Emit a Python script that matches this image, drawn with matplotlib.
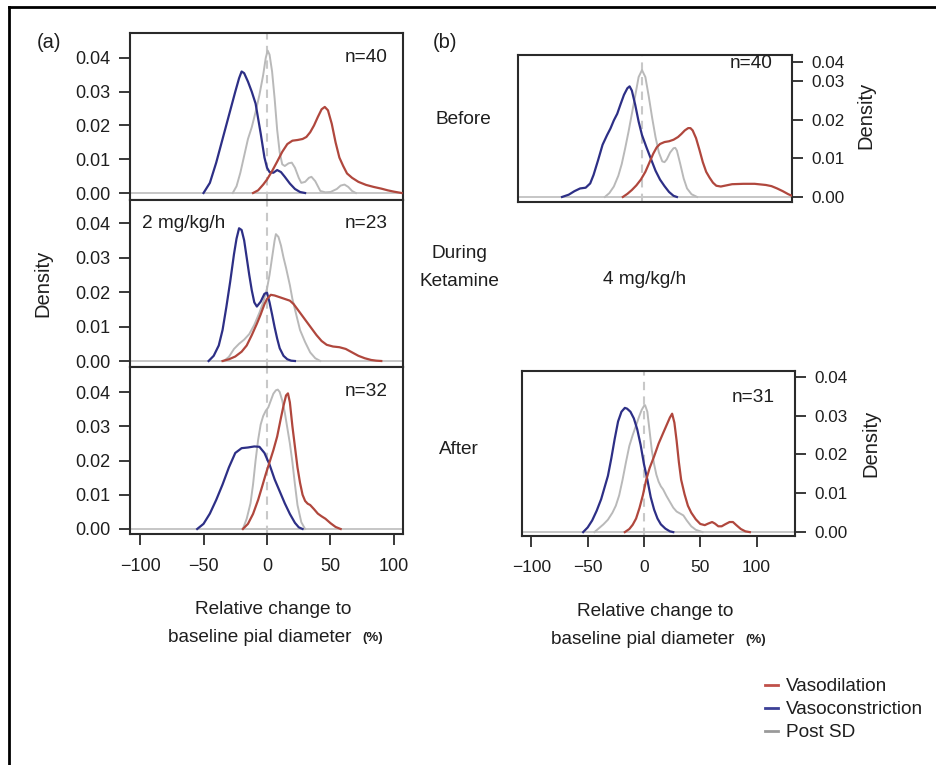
import matplotlib
matplotlib.use('Agg')
import matplotlib.pyplot as plt
from matplotlib.lines import Line2D

plt.rcParams['font.family'] = ['Liberation Sans', 'DejaVu Sans']

# ---------------- data ----------------
x_ticks = [-100, -50, 0, 50, 100]
y_ticks = [0.00, 0.01, 0.02, 0.03, 0.04]
y_tick_labels = ['0.00', '0.01', '0.02', '0.03', '0.04']
b_top_y_ticks = [0.00, 0.01, 0.02, 0.03, 0.0349]   # as drawn in the original
n_a = [40, 23, 32]
n_b = [40, 31]
legend_labels = ['Vasodilation', 'Vasoconstriction', 'Post SD']

# (a) before
a_before_con_x = [-50, -45, -40, -35, -30, -25, -22, -20, -18, -15, -12, -9, -5, -2, 0, 2, 5, 8, 11, 14, 18, 22, 26, 30]
a_before_con_y = [0, 0.003, 0.009, 0.016, 0.023, 0.030, 0.034, 0.036, 0.0355, 0.033, 0.030, 0.0265, 0.0177, 0.0105, 0.0075, 0.0062, 0.006, 0.0068, 0.0062, 0.0048, 0.0028, 0.0012, 0.0003, 0]
a_before_sd_x = [-27, -24, -21, -18, -15, -12, -9, -6, -3, -1, 0.5, 2, 4, 6, 8, 10, 12, 14, 17, 19.5, 22, 25, 27, 30, 33, 35, 38, 42, 46, 50, 55, 58, 61, 64, 67, 70]
a_before_sd_y = [0, 0.002, 0.006, 0.011, 0.016, 0.0195, 0.024, 0.029, 0.035, 0.040, 0.0422, 0.041, 0.036, 0.028, 0.0187, 0.012, 0.0085, 0.008, 0.0088, 0.009, 0.0075, 0.0045, 0.003, 0.0033, 0.0045, 0.0048, 0.0035, 0.0006, 0.0002, 0.0003, 0.0012, 0.0022, 0.0025, 0.0018, 0.0006, 0]
a_before_dil_x = [-11, -7, -3, 0, 4, 8, 12, 16, 20, 24, 28, 31, 34, 37, 40, 43, 45.5, 48, 51, 54, 57, 60, 63, 67, 72, 78, 84, 90, 95, 100, 106]
a_before_dil_y = [0, 0.0008, 0.0025, 0.004, 0.0065, 0.0093, 0.0122, 0.0145, 0.0155, 0.0157, 0.016, 0.0166, 0.018, 0.020, 0.0225, 0.0248, 0.0255, 0.0245, 0.0205, 0.015, 0.0105, 0.008, 0.0058, 0.0045, 0.0033, 0.0024, 0.0018, 0.0013, 0.0008, 0.0004, 0]

# (a) during 2 mg/kg/h
a_during_con_x = [-46, -42, -38, -35, -32, -29, -26, -24, -22, -20, -18, -16, -14, -12, -10, -8, -5, -2, 0, 2, 4, 6, 8, 10, 13, 16, 19, 22]
a_during_con_y = [0, 0.0015, 0.0045, 0.009, 0.0157, 0.023, 0.031, 0.0355, 0.0385, 0.038, 0.035, 0.030, 0.025, 0.0205, 0.017, 0.0158, 0.0172, 0.0195, 0.0198, 0.017, 0.0135, 0.0098, 0.0065, 0.0037, 0.0015, 0.0005, 0.0001, 0]
a_during_sd_x = [-34, -30, -26, -22, -18, -14, -10, -6, -3, 0, 2, 4, 6, 7, 9, 11, 13, 15, 18, 20, 23, 26, 30, 34, 38, 42]
a_during_sd_y = [0, 0.0012, 0.0035, 0.005, 0.0062, 0.0078, 0.0105, 0.014, 0.017, 0.021, 0.025, 0.030, 0.035, 0.0368, 0.036, 0.0335, 0.030, 0.027, 0.022, 0.018, 0.0135, 0.009, 0.0055, 0.0025, 0.0008, 0]
a_during_dil_x = [-35, -30, -25, -20, -16, -12, -8, -5, -2, 0, 3, 6, 10, 14, 18, 21, 24, 27, 31, 35, 39, 43, 47, 52, 57, 62, 67, 72, 77, 82, 86, 90]
a_during_dil_y = [0, 0.0005, 0.0013, 0.0027, 0.0045, 0.0075, 0.0108, 0.0135, 0.0165, 0.018, 0.0192, 0.019, 0.0185, 0.018, 0.0175, 0.0165, 0.015, 0.0135, 0.0115, 0.0095, 0.0075, 0.0058, 0.0047, 0.0042, 0.004, 0.0035, 0.0025, 0.0015, 0.0008, 0.0003, 0.0001, 0]

# (a) after
a_after_con_x = [-55, -50, -45, -40, -37, -35, -30, -25, -20, -15, -10, -6, -2, 2, 6, 10, 14, 18, 22, 25, 28]
a_after_con_y = [0, 0.0015, 0.0045, 0.0085, 0.0112, 0.013, 0.018, 0.0222, 0.0236, 0.0238, 0.0241, 0.024, 0.0222, 0.0188, 0.0145, 0.011, 0.0075, 0.0044, 0.0018, 0.0005, 0]
a_after_sd_x = [-19, -16, -13, -11, -9, -7, -5, -3, -1, 1, 3, 5, 7, 8.5, 10, 12, 14, 16, 18, 20, 22, 24, 27, 30]
a_after_sd_y = [0, 0.003, 0.0075, 0.013, 0.020, 0.026, 0.0305, 0.033, 0.0345, 0.0355, 0.0375, 0.0395, 0.0405, 0.0407, 0.040, 0.0375, 0.034, 0.0295, 0.025, 0.0195, 0.013, 0.007, 0.002, 0]
a_after_dil_x = [-19, -15, -11, -7, -4, -1, 2, 5, 8, 11, 13, 15, 16.5, 18, 20, 22, 24, 26, 28, 30, 32, 34, 37, 40, 43, 46, 50, 54, 58]
a_after_dil_y = [0, 0.0015, 0.0044, 0.0085, 0.0122, 0.016, 0.0195, 0.023, 0.027, 0.0325, 0.036, 0.039, 0.0396, 0.037, 0.030, 0.024, 0.018, 0.0135, 0.010, 0.0082, 0.0074, 0.007, 0.0058, 0.0045, 0.0037, 0.003, 0.0017, 0.0006, 0]

# (b) before
b_before_con_x = [-71, -65, -60, -55, -50, -46, -43, -39, -35, -31, -28, -25, -22, -19, -16, -13, -11, -9, -6, -3, 0, 4, 8, 12, 16, 20, 24, 28, 31]
b_before_con_y = [0, 0.0006, 0.0015, 0.0022, 0.0024, 0.0035, 0.0057, 0.0095, 0.0135, 0.016, 0.0177, 0.0198, 0.0215, 0.024, 0.0264, 0.0281, 0.0286, 0.0275, 0.0238, 0.0195, 0.016, 0.0128, 0.0098, 0.0068, 0.0045, 0.0028, 0.0013, 0.0003, 0]
b_before_sd_x = [-33, -29, -25, -21, -18, -15, -12, -9, -6, -3, 0, 3, 6, 9, 12, 15, 18, 20, 22, 25, 28, 29.5, 31, 34, 37, 40, 44, 49]
b_before_sd_y = [0, 0.001, 0.0027, 0.0055, 0.0085, 0.0125, 0.0168, 0.0215, 0.0262, 0.031, 0.0328, 0.031, 0.026, 0.0205, 0.0155, 0.0115, 0.0092, 0.009, 0.0097, 0.0115, 0.0126, 0.0127, 0.012, 0.0085, 0.0048, 0.0022, 0.0007, 0]
b_before_dil_x = [-17, -13, -9, -5, -1, 3, 6, 10, 13, 16, 20, 24, 28, 32, 35, 38, 41, 43, 45, 48, 51, 54, 57, 60, 63, 66, 70, 75, 80, 90, 100, 110, 115, 120, 125, 130, 134]
b_before_dil_y = [0, 0.0008, 0.0018, 0.003, 0.0045, 0.0065, 0.0085, 0.0112, 0.0128, 0.0137, 0.0142, 0.0144, 0.0148, 0.0155, 0.0163, 0.0172, 0.0178, 0.0178, 0.0172, 0.0152, 0.0122, 0.009, 0.0065, 0.005, 0.0037, 0.0029, 0.0027, 0.003, 0.0033, 0.0034, 0.0034, 0.0031, 0.0028, 0.0022, 0.0015, 0.0007, 0.0002]

# (b) after
b_after_con_x = [-54, -50, -46, -42, -38, -35, -32, -29, -26, -23, -20, -17, -15, -12, -9, -6, -3, 0, 3, 6, 9, 12, 15, 19, 23, 26]
b_after_con_y = [0, 0.0012, 0.003, 0.0055, 0.0085, 0.0115, 0.0145, 0.019, 0.024, 0.0285, 0.031, 0.032, 0.0318, 0.031, 0.0293, 0.0265, 0.0225, 0.0175, 0.0135, 0.009, 0.0058, 0.0035, 0.002, 0.0009, 0.0002, 0]
b_after_sd_x = [-44, -40, -36, -32, -28, -25, -22, -19, -16, -13, -10, -7, -4, -2, 0, 1, 3, 5, 7, 9, 11, 13, 15, 17, 20, 23, 26, 29, 32, 35, 38, 42, 46, 52]
b_after_sd_y = [0, 0.001, 0.002, 0.0032, 0.005, 0.0068, 0.0095, 0.0135, 0.018, 0.0222, 0.025, 0.0275, 0.030, 0.0315, 0.0325, 0.0327, 0.031, 0.026, 0.021, 0.0175, 0.0148, 0.013, 0.0118, 0.011, 0.0093, 0.0078, 0.0063, 0.0053, 0.0048, 0.0043, 0.003, 0.0015, 0.0006, 0]
b_after_dil_x = [-17, -13, -10, -7, -4, -1, 2, 5, 9, 13, 17, 20, 23, 25, 27, 29, 31, 33, 36, 39, 42, 46, 50, 54, 57, 60.5, 63, 66, 69, 72, 76, 79, 82, 86, 90, 94]
b_after_dil_y = [0, 0.0008, 0.0019, 0.0035, 0.0062, 0.0095, 0.0135, 0.0165, 0.0195, 0.0228, 0.0255, 0.0275, 0.0295, 0.0305, 0.0282, 0.0235, 0.018, 0.0135, 0.0098, 0.0068, 0.005, 0.0033, 0.0021, 0.0018, 0.0022, 0.0026, 0.0022, 0.0015, 0.0015, 0.002, 0.0026, 0.0026, 0.0018, 0.0008, 0.0002, 0]

# ---------------- styling ----------------
W, H = 937, 765
RED = '#b0473d'
BLUE = '#2d2f86'
GRAY = '#b9b9b9'
TXT = '#1e1e1e'
FS = 13.7
TFS = 13

fig = plt.figure(figsize=(W / 100, H / 100), dpi=100)


def fx(x):
    return x / W


def fy(y):
    return 1 - y / H


def make_ax(l, t, r, b, xlim, ylim):
    ax = fig.add_axes([fx(l), fy(b), (r - l) / W, (b - t) / H])
    ax.set_xlim(*xlim)
    ax.set_ylim(*ylim)
    for s in ax.spines.values():
        s.set_linewidth(1.5)
        s.set_color('#2a2a2a')
    ax.tick_params(direction='out', length=8, width=1.3, colors='#2a2a2a',
                   labelsize=TFS, labelcolor=TXT)
    return ax


def draw(ax, sd, con, dil):
    ax.axhline(0, color='#c2c2c2', lw=1.3, zorder=1)
    ax.axvline(0, color='#c8c8c8', lw=1.5, ls=(0, (4, 3)), zorder=1)
    ax.plot(sd[0], sd[1], color=GRAY, lw=1.4, zorder=2)
    ax.plot(con[0], con[1], color=BLUE, lw=1.6, zorder=3)
    ax.plot(dil[0], dil[1], color=RED, lw=1.6, zorder=4)


xa = (-107.9, 107.1)

# panel (a)
a1 = make_ax(130, 33, 403, 200, xa, (-0.00207, 0.0474))
a2 = make_ax(130, 200, 403, 367, xa, (-0.00174, 0.0467))
a3 = make_ax(130, 367, 403, 534, xa, (-0.00146, 0.0473))
draw(a1, (a_before_sd_x, a_before_sd_y), (a_before_con_x, a_before_con_y), (a_before_dil_x, a_before_dil_y))
draw(a2, (a_during_sd_x, a_during_sd_y), (a_during_con_x, a_during_con_y), (a_during_dil_x, a_during_dil_y))
draw(a3, (a_after_sd_x, a_after_sd_y), (a_after_con_x, a_after_con_y), (a_after_dil_x, a_after_dil_y))
for ax in (a1, a2, a3):
    ax.set_yticks(y_ticks)
    ax.set_yticklabels(y_tick_labels)
    ax.tick_params(axis='y', pad=6)
for ax in (a1, a2):
    ax.set_xticks([])
a3.set_xticks(x_ticks)
a3.tick_params(axis='x', pad=9)

# panel (b)
b1 = make_ax(518, 55, 792, 202, (-110.1, 133.2), (-0.0013, 0.0367))
b2 = make_ax(522, 371, 795, 536, (-108.3, 134.1), (-0.001, 0.0415))
draw(b1, (b_before_sd_x, b_before_sd_y), (b_before_con_x, b_before_con_y), (b_before_dil_x, b_before_dil_y))
draw(b2, (b_after_sd_x, b_after_sd_y), (b_after_con_x, b_after_con_y), (b_after_dil_x, b_after_dil_y))
b1.set_xticks([])
b1.set_yticks(b_top_y_ticks)
b1.set_yticklabels(y_tick_labels)
b2.set_yticks(y_ticks)
b2.set_yticklabels(y_tick_labels)
b2.set_xticks(x_ticks)
b2.tick_params(axis='x', pad=9)
for ax in (b1, b2):
    ax.yaxis.tick_right()
    ax.tick_params(axis='y', pad=6, labelsize=12.3)
    ax.tick_params(axis='x', labelsize=12.5)


def t(x, y, s, ha='center', size=FS, **kw):
    fig.text(fx(x), fy(y), s, ha=ha, va='center', fontsize=size, color=TXT, **kw)


# texts panel (a)
t(37, 42, '(a)', ha='left', size=14.5)
t(43, 283, 'Density', rotation=90, size=14.5)
t(388, 58, f'n={n_a[0]}', ha='right')
t(388, 224, f'n={n_a[1]}', ha='right')
t(388, 392, f'n={n_a[2]}', ha='right')
t(142, 223, '2 mg/kg/h', ha='left')
t(273, 610, 'Relative change to')
t(168, 637, 'baseline pial diameter', ha='left')
t(362, 638, '(%)', ha='left', size=9.5, weight='bold')

# texts panel (b)
t(433, 43, '(b)', ha='left', size=14.5)
t(773, 63, f'n={n_b[0]}', ha='right')
t(775, 397, f'n={n_b[1]}', ha='right')
t(463, 120, 'Before')
t(459, 253, 'During')
t(459, 282, 'Ketamine')
t(645, 280, '4 mg/kg/h')
t(459, 450, 'After')
t(866, 115, 'Density', rotation=90, size=14.5)
t(871, 443, 'Density', rotation=90, size=14.5)
t(655, 612, 'Relative change to')
t(551, 639, 'baseline pial diameter', ha='left')
t(745, 640, '(%)', ha='left', size=9.5, weight='bold')

# legend
handles = [Line2D([], [], color='#c0504a', lw=2),
           Line2D([], [], color='#3c4096', lw=2),
           Line2D([], [], color='#9a9a9a', lw=2)]
fig.legend(handles, legend_labels, loc='upper left',
           bbox_to_anchor=(fx(765), fy(678)), frameon=False,
           handlelength=0.7, handletextpad=0.4, labelspacing=0.3,
           borderpad=0, borderaxespad=0, fontsize=FS, labelcolor=TXT)

# outer frame (top and left edges)
fig.add_artist(Line2D([fx(9), 1.0], [fy(7), fy(7)], transform=fig.transFigure, color='black', lw=2))
fig.add_artist(Line2D([fx(9), fx(9)], [fy(7), 0.0], transform=fig.transFigure, color='black', lw=2))

fig.savefig('out.png', dpi=100)
